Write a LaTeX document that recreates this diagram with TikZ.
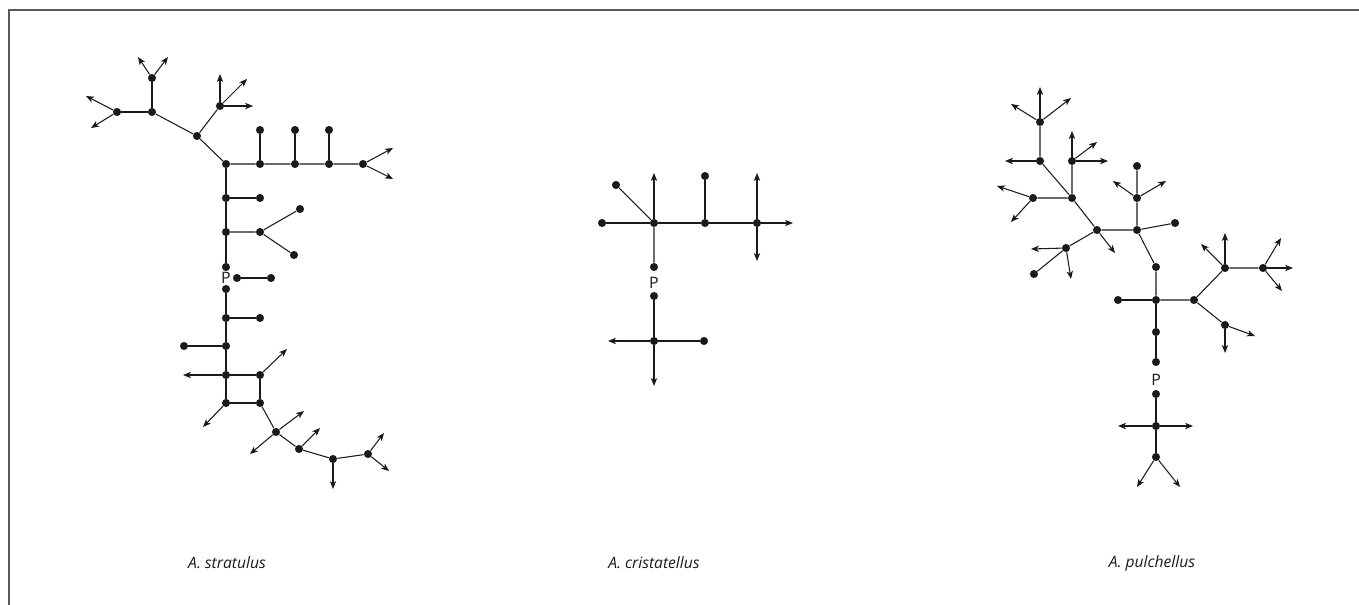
\documentclass[tikz,border=0pt]{standalone}
\usepackage{fontspec}
\setmainfont{Open Sans}
\usepackage{tikz}
\usetikzlibrary{arrows.meta}
\definecolor{ink}{HTML}{1A1A1A}
\definecolor{framegray}{HTML}{5A5A5A}

\begin{document}
\begin{tikzpicture}[
    x=0.02cm, y=-0.02cm,
    dot/.style={circle, fill=ink, inner sep=0pt, minimum size=4.6pt},
    link/.style={draw=ink, line width=0.6pt},
    tip/.style={-{Stealth[length=4.5pt, width=3.6pt, inset=1.2pt]}, draw=ink, line width=0.6pt},
    plabel/.style={inner sep=0pt, font=\fontsize{9}{11}\selectfont, text=ink},
    species/.style={inner sep=0pt, font=\fontsize{8.9}{10}\selectfont\itshape, text=ink},
    frame/.style={draw=framegray, line width=1.1pt}
]
    \useasboundingbox (0,0) rectangle (1359,605);
    \draw[frame] (1359,10) -- (9,10) -- (9,605);

    % A. stratulus
    \node[dot] (s1) at (117,112) {};
    \node[dot] (s2) at (152,112) {};
    \node[dot] (s3) at (152,78) {};
    \node[dot] (s4) at (197,136) {};
    \node[dot] (s5) at (220,106) {};
    \node[dot] (j0) at (226,164) {};
    \node[dot] (h1) at (260,164) {};
    \node[dot] (h2) at (295,164) {};
    \node[dot] (h3) at (329,164) {};
    \node[dot] (h4) at (363,164) {};
    \node[dot] (v1) at (260,130) {};
    \node[dot] (v2) at (295,130) {};
    \node[dot] (v3) at (329,130) {};
    \node[dot] (m1) at (226,198) {};
    \node[dot] (m1r) at (260,198) {};
    \node[dot] (m2) at (226,232) {};
    \node[dot] (m2r) at (260,232) {};
    \node[dot] (m2a) at (300,209) {};
    \node[dot] (m2b) at (294,255) {};
    \node[dot] (m3) at (226,267) {};
    \node[plabel] (sp) at (226,278) {P};
    \node[dot] (pr1) at (237,278) {};
    \node[dot] (pr2) at (271,278) {};
    \node[dot] (m4) at (226,289) {};
    \node[dot] (m5) at (226,318) {};
    \node[dot] (m5r) at (260,318) {};
    \node[dot] (m6) at (226,346) {};
    \node[dot] (m6l) at (184,346) {};
    \node[dot] (q1) at (226,375) {};
    \node[dot] (q2) at (260,375) {};
    \node[dot] (q3) at (226,403) {};
    \node[dot] (q4) at (260,403) {};
    \node[dot] (t1) at (276,432) {};
    \node[dot] (t2) at (299,449) {};
    \node[dot] (t3) at (333,459) {};
    \node[dot] (t4) at (368,454) {};

    \coordinate (s1a) at (86,96);
    \coordinate (s1b) at (91,128);
    \coordinate (s3a) at (138,57);
    \coordinate (s3b) at (168,57);
    \coordinate (s5a) at (220,74);
    \coordinate (s5b) at (247,79);
    \coordinate (s5c) at (253,106);
    \coordinate (h4a) at (393,148);
    \coordinate (h4b) at (393,179);
    \coordinate (q1a) at (183,375);
    \coordinate (q2a) at (287,349);
    \coordinate (q3a) at (203,427);
    \coordinate (t1a) at (304,411);
    \coordinate (t1b) at (250,454);
    \coordinate (t2a) at (320,428);
    \coordinate (t3a) at (333,489);
    \coordinate (t4a) at (384,433);
    \coordinate (t4b) at (389,471);

    \draw[link] (s1) -- (s2) -- (s3);
    \draw[link] (s2) -- (s4) -- (s5);
    \draw[link] (s4) -- (j0) -- (h1) -- (h2) -- (h3) -- (h4);
    \draw[link] (h1) -- (v1);
    \draw[link] (h2) -- (v2);
    \draw[link] (h3) -- (v3);
    \draw[link] (j0) -- (m1) -- (m2) -- (m3);
    \draw[link] (m1) -- (m1r);
    \draw[link] (m2) -- (m2r) -- (m2a);
    \draw[link] (m2r) -- (m2b);
    \draw[link] (pr1) -- (pr2);
    \draw[link] (m4) -- (m5) -- (m6) -- (q1) -- (q3) -- (q4) -- (q2) -- (q1);
    \draw[link] (m5) -- (m5r);
    \draw[link] (m6) -- (m6l);
    \draw[link] (q4) -- (t1) -- (t2) -- (t3) -- (t4);

    \draw[tip] (s1) -- (s1a);
    \draw[tip] (s1) -- (s1b);
    \draw[tip] (s3) -- (s3a);
    \draw[tip] (s3) -- (s3b);
    \draw[tip] (s5) -- (s5a);
    \draw[tip] (s5) -- (s5b);
    \draw[tip] (s5) -- (s5c);
    \draw[tip] (h4) -- (h4a);
    \draw[tip] (h4) -- (h4b);
    \draw[tip] (q1) -- (q1a);
    \draw[tip] (q2) -- (q2a);
    \draw[tip] (q3) -- (q3a);
    \draw[tip] (t1) -- (t1a);
    \draw[tip] (t1) -- (t1b);
    \draw[tip] (t2) -- (t2a);
    \draw[tip] (t3) -- (t3a);
    \draw[tip] (t4) -- (t4a);
    \draw[tip] (t4) -- (t4b);

    % A. cristatellus
    \node[dot] (c0) at (654,223) {};
    \node[dot] (cl) at (602,223) {};
    \node[dot] (cd) at (616,185) {};
    \node[dot] (c2) at (705,223) {};
    \node[dot] (c2t) at (705,176) {};
    \node[dot] (c3) at (757,223) {};
    \node[dot] (c4) at (654,267) {};
    \node[plabel] (cp) at (654,283) {P};
    \node[dot] (c5) at (654,296) {};
    \node[dot] (c6) at (654,341) {};
    \node[dot] (c6r) at (704,341) {};

    \coordinate (c0a) at (654,173);
    \coordinate (c3a) at (757,173);
    \coordinate (c3b) at (757,261);
    \coordinate (c3c) at (793,223);
    \coordinate (c6a) at (608,341);
    \coordinate (c6b) at (654,386);

    \draw[link] (cl) -- (c0) -- (c2) -- (c3);
    \draw[link] (cd) -- (c0) -- (c4);
    \draw[link] (c2) -- (c2t);
    \draw[link] (c5) -- (c6) -- (c6r);

    \draw[tip] (c0) -- (c0a);
    \draw[tip] (c3) -- (c3a);
    \draw[tip] (c3) -- (c3b);
    \draw[tip] (c3) -- (c3c);
    \draw[tip] (c6) -- (c6a);
    \draw[tip] (c6) -- (c6b);

    % A. pulchellus
    \node[dot] (p1) at (1040,122) {};
    \node[dot] (p2) at (1040,161) {};
    \node[dot] (p3) at (1072,161) {};
    \node[dot] (p4) at (1072,198) {};
    \node[dot] (p5) at (1033,198) {};
    \node[dot] (p6) at (1097,230) {};
    \node[dot] (p7) at (1137,230) {};
    \node[dot] (p8) at (1137,198) {};
    \node[dot] (p8t) at (1137,166) {};
    \node[dot] (p7r) at (1175,223) {};
    \node[dot] (p9) at (1066,248) {};
    \node[dot] (p9d) at (1034,274) {};
    \node[dot] (p10) at (1156,267) {};
    \node[dot] (p11) at (1156,300) {};
    \node[dot] (p11l) at (1118,300) {};
    \node[dot] (p12) at (1194,300) {};
    \node[dot] (p13) at (1225,268) {};
    \node[dot] (p14) at (1263,268) {};
    \node[dot] (p15) at (1225,325) {};
    \node[dot] (p16) at (1156,332) {};
    \node[dot] (p17) at (1156,362) {};
    \node[plabel] (pp) at (1156,380) {P};
    \node[dot] (p18) at (1156,394) {};
    \node[dot] (p19) at (1156,426) {};
    \node[dot] (p20) at (1156,457) {};

    \coordinate (p1a) at (1040,87);
    \coordinate (p1b) at (1011,104);
    \coordinate (p1c) at (1071,98);
    \coordinate (p2a) at (1005,161);
    \coordinate (p3a) at (1072,131);
    \coordinate (p3b) at (1097,142);
    \coordinate (p3c) at (1108,161);
    \coordinate (p5a) at (997,186);
    \coordinate (p5b) at (1011,222);
    \coordinate (p6a) at (1115,253);
    \coordinate (p8a) at (1113,181);
    \coordinate (p8b) at (1166,181);
    \coordinate (p9a) at (1031,249);
    \coordinate (p9b) at (1071,279);
    \coordinate (p13a) at (1225,233);
    \coordinate (p13b) at (1201,244);
    \coordinate (p14a) at (1281,238);
    \coordinate (p14b) at (1293,268);
    \coordinate (p14c) at (1282,291);
    \coordinate (p15a) at (1255,336);
    \coordinate (p15b) at (1225,353);
    \coordinate (p19a) at (1118,426);
    \coordinate (p19b) at (1193,426);
    \coordinate (p20a) at (1137,487);
    \coordinate (p20b) at (1180,487);

    \draw[link] (p1) -- (p2) -- (p4) -- (p3);
    \draw[link] (p5) -- (p4) -- (p6) -- (p7) -- (p8) -- (p8t);
    \draw[link] (p7) -- (p7r);
    \draw[link] (p6) -- (p9) -- (p9d);
    \draw[link] (p7) -- (p10) -- (p11) -- (p12) -- (p13) -- (p14);
    \draw[link] (p11l) -- (p11) -- (p16) -- (p17);
    \draw[link] (p12) -- (p15);
    \draw[link] (p18) -- (p19) -- (p20);

    \draw[tip] (p1) -- (p1a);
    \draw[tip] (p1) -- (p1b);
    \draw[tip] (p1) -- (p1c);
    \draw[tip] (p2) -- (p2a);
    \draw[tip] (p3) -- (p3a);
    \draw[tip] (p3) -- (p3b);
    \draw[tip] (p3) -- (p3c);
    \draw[tip] (p5) -- (p5a);
    \draw[tip] (p5) -- (p5b);
    \draw[tip] (p6) -- (p6a);
    \draw[tip] (p8) -- (p8a);
    \draw[tip] (p8) -- (p8b);
    \draw[tip] (p9) -- (p9a);
    \draw[tip] (p9) -- (p9b);
    \draw[tip] (p13) -- (p13a);
    \draw[tip] (p13) -- (p13b);
    \draw[tip] (p14) -- (p14a);
    \draw[tip] (p14) -- (p14b);
    \draw[tip] (p14) -- (p14c);
    \draw[tip] (p15) -- (p15a);
    \draw[tip] (p15) -- (p15b);
    \draw[tip] (p19) -- (p19a);
    \draw[tip] (p19) -- (p19b);
    \draw[tip] (p20) -- (p20a);
    \draw[tip] (p20) -- (p20b);

    % species names
    \node[species] (nstr) at (227,563) {A. stratulus};
    \node[species] (ncri) at (654,563) {A. cristatellus};
    \node[species] (npul) at (1152,563) {A. pulchellus};
\end{tikzpicture}
\end{document}
